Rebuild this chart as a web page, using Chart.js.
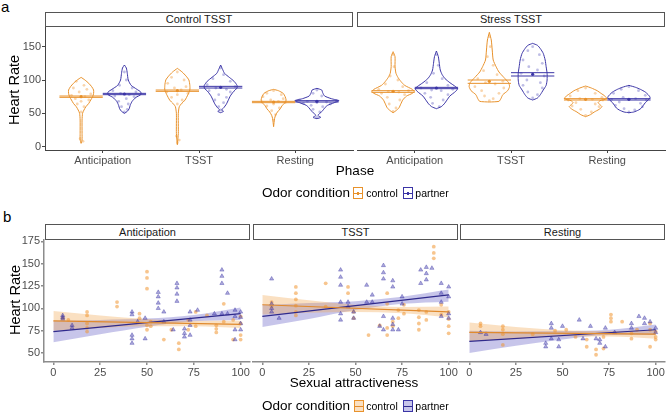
<!DOCTYPE html>
<html>
<head>
<meta charset="utf-8">
<script src="https://cdn.jsdelivr.net/npm/chart.js@4.4.1/dist/chart.umd.min.js"></script>
<style>
body { margin: 0; background: #fff; }
#fig { position: relative; width: 669px; height: 416px; overflow: hidden; font-family: "Liberation Sans", Arial, sans-serif; color: #000; background: #fff; }
#fig canvas { position: absolute; }
.t { position: absolute; white-space: nowrap; line-height: 1; }
.c { transform: translate(-50%, -50%); }
.rot { transform: translate(-50%, -50%) rotate(-90deg); }
.strip { position: absolute; box-sizing: border-box; border: 1px solid #555; background: #fff; font-size: 11px; text-align: center; color: #1a1a1a; }
.key { position: absolute; box-sizing: border-box; width: 10px; height: 12px; border: 1px solid; }
.key i { position: absolute; left: 0; right: 0; top: 4.5px; height: 1px; }
.key b { position: absolute; left: 3px; top: 3.5px; width: 2px; height: 3px; }
</style>
</head>
<body>
<div id="fig">
  <div class="t" style="left:1px;top:-1px;font-size:15px;">a</div>
  <div class="t" style="left:3px;top:209px;font-size:15px;">b</div>

  <div class="strip" style="left:45px;top:12px;width:308px;height:15px;line-height:13px;">Control TSST</div>
  <div class="strip" style="left:357px;top:12px;width:308px;height:15px;line-height:13px;">Stress TSST</div>
  <div class="strip" style="left:45px;top:224px;width:205px;height:16px;line-height:14px;">Anticipation</div>
  <div class="strip" style="left:253px;top:224px;width:205px;height:16px;line-height:14px;">TSST</div>
  <div class="strip" style="left:460px;top:224px;width:205px;height:16px;line-height:14px;">Resting</div>

  <canvas id="cA1"></canvas>
  <canvas id="cA2"></canvas>
  <canvas id="cB1"></canvas>
  <canvas id="cB2"></canvas>
  <canvas id="cB3"></canvas>

  <div class="t rot" style="left:14px;top:90px;font-size:14.5px;">Heart Rate</div>
  <div class="t c" style="left:355px;top:171px;font-size:13.5px;">Phase</div>
  <div class="t c" style="left:306px;top:193px;font-size:13.5px;">Odor condition</div>
  <div class="key" style="left:353px;top:187px;border-color:#E8922C;"><i style="background:#E8922C"></i><b style="background:#E8922C"></b></div>
  <div class="t c" style="left:382px;top:193px;font-size:10.5px;">control</div>
  <div class="key" style="left:403px;top:187px;border-color:#3B35A6;"><i style="background:#3B35A6"></i><b style="background:#3B35A6"></b></div>
  <div class="t c" style="left:432px;top:193px;font-size:10.5px;">partner</div>

  <div class="t rot" style="left:15px;top:300px;font-size:14.5px;">Heart Rate</div>
  <div class="t c" style="left:354px;top:383px;font-size:13.5px;">Sexual attractiveness</div>
  <div class="t c" style="left:306px;top:406px;font-size:13.5px;">Odor condition</div>
  <div class="key" style="left:354px;top:400px;border-color:#E8922C;background:rgba(242,165,80,0.35);"><i style="background:#E08A2E"></i></div>
  <div class="t c" style="left:382px;top:406px;font-size:10.5px;">control</div>
  <div class="key" style="left:403px;top:400px;border-color:#3B35A6;background:rgba(95,90,195,0.35);"><i style="background:#2F2A8C"></i></div>
  <div class="t c" style="left:432px;top:406px;font-size:10.5px;">partner</div>
</div>
<script>
// ---- panel a: categories and ticks
const phases = ['Anticipation', 'TSST', 'Resting'];
const yTicksA = [0, 50, 100, 150];
const xTicksA = [1, 2, 3];

// violin outlines: [heart rate, half width in category units], one per phase
const violinCtrl_control = [
  [[104,0],[100,0.04],[95,0.08],[90,0.11],[85,0.13],[80,0.13],[75,0.12],[70,0.10],[65,0.08],[60,0.05],[55,0.03],[50,0.015],[40,0.01],[20,0.01],[10,0.01],[5,0]],
  [[117.5,0],[112,0.05],[106,0.09],[100,0.12],[92,0.13],[85,0.13],[78,0.11],[70,0.08],[64,0.04],[60,0.02],[50,0.01],[20,0.01],[3,0]],
  [[86,0],[84,0.05],[80,0.10],[75,0.12],[70,0.13],[66,0.12],[62,0.09],[57,0.07],[52,0.04],[47,0.02],[42,0.01],[30,0]]
];
const violinCtrl_partner = [
  [[122.5,0],[118,0.02],[110,0.03],[100,0.04],[92,0.07],[86,0.13],[82,0.17],[78,0.17],[74,0.12],[68,0.08],[62,0.06],[57,0.05],[53,0.03],[50,0]],
  [[122.5,0],[116,0.02],[110,0.04],[104,0.09],[98,0.14],[92,0.17],[88,0.17],[82,0.13],[76,0.10],[70,0.08],[64,0.06],[58,0.03],[55,0.01],[53,0.03],[51,0]],
  [[87.5,0],[85,0.05],[81,0.06],[76,0.08],[72,0.15],[69,0.23],[66,0.18],[62,0.11],[58,0.08],[54,0.06],[50,0.03],[47,0.01],[44,0.04],[42,0]]
];
const violinStress_control = [
  [[142.5,0],[135,0.02],[120,0.02],[110,0.03],[104,0.05],[98,0.08],[92,0.12],[86,0.2],[83,0.22],[80,0.2],[76,0.14],[70,0.1],[64,0.08],[58,0.06],[54,0.03],[51,0]],
  [[171.5,0],[160,0.02],[145,0.03],[130,0.04],[120,0.07],[112,0.1],[104,0.15],[96,0.2],[90,0.21],[84,0.19],[78,0.14],[72,0.12],[68,0.1],[67,0]],
  [[91,0],[88,0.06],[84,0.12],[80,0.16],[76,0.2],[72,0.22],[69,0.15],[66,0.13],[63,0.15],[60,0.17],[56,0.14],[52,0.09],[48,0.05],[45,0]]
];
const violinStress_partner = [
  [[143.5,0],[135,0.02],[125,0.03],[115,0.04],[108,0.06],[102,0.09],[96,0.14],[90,0.2],[87,0.22],[83,0.2],[76,0.14],[70,0.11],[64,0.08],[60,0.05],[57,0]],
  [[155,0],[152,0.05],[147,0.08],[140,0.11],[130,0.13],[120,0.14],[110,0.15],[100,0.15],[92,0.14],[85,0.11],[78,0.08],[73,0.05],[70,0]],
  [[92,0],[89,0.07],[86,0.12],[82,0.17],[78,0.2],[74,0.22],[70,0.2],[66,0.17],[62,0.15],[58,0.13],[55,0.1],[52,0.05],[51,0]]
];

// mean and interval lines
const meanCtrl_control = [75, 84, 67];
const meanCtrl_partner = [79, 89, 68];
const meanStress_control = [83, 98, 71];
const meanStress_partner = [88, 108.5, 71];
const ciCtrl_control = [[74, 76], [83, 85], [66, 68]];
const ciCtrl_partner = [[78, 80], [88, 90.5], [67, 69]];
const ciStress_control = [[81.5, 84], [95, 100], [70, 72]];
const ciStress_partner = [[87, 89], [106, 111], [70, 72]];

// jittered observations: [offset from violin centre, heart rate]
const jitCtrl_control = [
  [[-0.05,98],[0.03,92],[-0.08,88],[0.06,86],[-0.02,82],[0.1,79],[-0.1,77],[0.04,75],[-0.06,72],[0.08,70],[0.0,68],[-0.04,64],[0.03,60],[-0.01,12],[0.02,8],[0.0,52]],
  [[0.0,112],[-0.06,104],[0.07,100],[-0.1,95],[0.09,90],[-0.03,88],[0.04,85],[-0.11,82],[0.11,80],[0.0,78],[-0.06,74],[0.05,70],[0.0,64],[-0.01,16],[0.02,10],[0,6]],
  [[0.0,84],[-0.07,80],[0.08,78],[-0.11,75],[0.1,72],[-0.03,70],[0.05,68],[-0.12,67],[0.12,66],[0.0,64],[-0.07,61],[0.06,58],[-0.02,54],[0.02,48],[0,40]]
];
const jitCtrl_partner = [
  [[0.0,112],[0.02,100],[-0.05,92],[0.08,88],[-0.12,84],[0.12,82],[-0.04,80],[0.05,78],[-0.1,76],[0.1,75],[0.02,72],[-0.06,68],[0.04,64],[-0.03,60],[0.03,56],[0,52]],
  [[0.0,118],[0.03,108],[-0.08,102],[0.1,98],[-0.14,93],[0.15,90],[-0.05,88],[0.06,86],[-0.12,84],[0.1,82],[-0.02,78],[0.06,74],[-0.06,70],[0.03,66],[-0.02,60],[0,55]],
  [[0.0,85],[-0.04,80],[0.05,76],[-0.18,70],[0.2,69],[-0.1,68],[0.1,67],[0.0,66],[-0.14,65],[0.14,64],[-0.06,62],[0.06,60],[-0.04,56],[0.03,52],[0,44]]
];
const jitStress_control = [
  [[0.0,138],[0.01,120],[-0.03,106],[0.05,100],[-0.08,94],[0.1,90],[-0.15,86],[0.16,84],[-0.05,83],[0.06,82],[-0.12,80],[0.12,78],[-0.06,74],[0.07,70],[-0.04,64],[0.03,58],[0,53]],
  [[0.0,165],[0.01,150],[-0.02,135],[0.04,122],[-0.06,114],[0.08,108],[-0.12,102],[0.14,98],[-0.04,96],[0.06,94],[-0.15,90],[0.15,88],[-0.08,84],[0.1,80],[-0.05,76],[0.04,72],[0,69]],
  [[0.0,88],[-0.08,84],[0.1,80],[-0.16,76],[0.17,74],[-0.06,72],[0.07,71],[-0.18,70],[0.18,70],[-0.1,66],[0.1,64],[-0.14,61],[0.14,60],[-0.05,56],[0.06,52],[0,47]]
];
const jitStress_partner = [
  [[0.0,138],[0.02,122],[-0.03,110],[0.06,102],[-0.1,96],[0.12,92],[-0.16,88],[0.17,86],[-0.05,85],[0.05,84],[-0.12,80],[0.12,78],[-0.06,74],[0.07,70],[-0.04,65],[0.03,60]],
  [[0.0,150],[-0.05,144],[0.07,138],[-0.1,130],[0.1,125],[-0.04,120],[0.05,115],[-0.12,110],[0.12,106],[-0.06,100],[0.08,96],[-0.1,92],[0.1,88],[-0.05,82],[0.05,78],[0,73]],
  [[0.0,90],[-0.08,86],[0.1,84],[-0.16,80],[0.17,77],[-0.06,74],[0.07,72],[-0.18,71],[0.18,70],[-0.1,67],[0.12,65],[-0.14,62],[0.14,60],[-0.05,57],[0.06,55],[0,52]]
];

// ---- panel b: ticks, observations [attractiveness, heart rate], fits
const xTicksB = [0, 25, 50, 75, 100];
const yTicksB = [50, 75, 100, 125, 150, 175];
const bandX = [0, 25, 50, 75, 100];

const antControl = [[5,89],[8,87],[18,96],[18,92],[18,83],[18,78],[18,74],[34,107],[34,102],[46,94],[46,89],[50,141],[50,134],[50,122],[50,81],[50,76],[52,85],[52,80],[59,65],[63,76],[67,61],[67,54],[72,87],[72,76],[76,96],[76,80],[82,92],[87,81],[87,77],[87,73],[91,105],[91,85],[96,87],[96,65],[100,91],[100,83],[100,70],[100,65]];
const antPartner = [[5,92],[5,90],[5,88],[10,81],[10,78],[42,96],[42,93],[42,70],[42,66],[42,61],[45,85],[49,89],[49,66],[56,118],[56,113],[56,106],[56,100],[59,96],[59,85],[64,76],[66,128],[66,123],[66,116],[66,108],[70,77],[70,72],[70,68],[73,96],[73,87],[73,81],[73,70],[77,98],[86,94],[90,143],[90,136],[90,128],[90,94],[93,117],[93,94],[97,98],[97,91],[97,76],[97,65],[100,96],[100,90],[100,83],[100,76]];
const tsstControl = [[5,107],[5,102],[18,124],[18,117],[18,110],[18,103],[18,96],[18,92],[34,128],[34,102],[46,124],[46,117],[49,96],[49,89],[57,70],[63,81],[67,117],[67,105],[67,78],[67,70],[70,85],[70,80],[73,98],[73,89],[76,104],[76,94],[84,98],[84,90],[84,83],[84,76],[88,96],[88,87],[92,169],[92,162],[92,156],[96,104],[96,93],[100,96],[100,88],[100,80],[100,72]];
const tsstPartner = [[5,133],[5,105],[5,100],[5,96],[9,89],[42,143],[42,135],[42,126],[42,107],[42,94],[42,87],[46,107],[46,102],[49,96],[49,89],[56,126],[56,107],[59,115],[59,107],[63,80],[65,148],[65,140],[65,133],[65,91],[65,76],[70,131],[70,124],[70,89],[70,82],[70,76],[73,76],[75,113],[75,105],[85,143],[85,128],[88,146],[88,139],[88,132],[91,145],[96,128],[96,117],[96,107],[96,91],[100,124],[100,113],[100,94],[100,89]];
const restControl = [[6,83],[6,80],[18,80],[18,76],[18,71],[18,59],[34,71],[46,75],[52,76],[57,68],[63,65],[63,57],[68,54],[68,48],[72,68],[72,55],[76,93],[76,89],[76,85],[82,85],[87,72],[87,66],[90,76],[97,83],[97,76],[97,57],[100,74],[100,68],[100,65]];
const restPartner = [[6,73],[9,71],[41,61],[41,57],[44,83],[44,78],[44,66],[48,65],[48,57],[50,80],[59,87],[61,66],[65,80],[68,66],[70,65],[70,61],[73,78],[73,57],[78,73],[87,83],[87,78],[91,91],[94,89],[94,83],[97,85],[100,78],[100,73]];

// fitted line: heart rate at attractiveness 0 and 100
const fitAnt_control = [86, 82];
const fitAnt_partner = [74, 94];
const fitTsst_control = [104, 96];
const fitTsst_partner = [91, 115];
const fitRest_control = [73, 71];
const fitRest_partner = [63, 76];
// confidence band at bandX
const bandAnt_control = { lo: [75, 78, 80, 80, 78], hi: [97, 92, 88, 86, 86] };
const bandAnt_partner = { lo: [62, 71, 79.5, 85.5, 87], hi: [86, 87, 88.5, 92.5, 101] };
const bandTsst_control = { lo: [93, 95, 96, 94.5, 90], hi: [115, 109, 104, 101.5, 102] };
const bandTsst_partner = { lo: [79, 88, 98, 105, 107.5], hi: [104, 106, 108, 113, 121] };
const bandRest_control = { lo: [63, 66, 68.5, 68.5, 66], hi: [84, 79, 75.5, 74.5, 76] };
const bandRest_partner = { lo: [50, 58, 65, 70, 70], hi: [75, 74, 74.5, 76, 82] };

const ORANGE = '#E8922C', BLUE = '#3B35A6';
Chart.defaults.font.family = '"Liberation Sans", Arial, sans-serif';
Chart.defaults.font.size = 11;
Chart.defaults.color = '#4D4D4D';

const PAD = 10;
function place(id, plotLeft, plotTop, plotW, plotH, yW, xH) {
    let c = document.getElementById(id);
    c.width = yW + plotW + 2 * PAD;
    c.height = plotH + xH + 2 * PAD;
    c.style.left = (plotLeft - yW - PAD) + 'px';
    c.style.top = (plotTop - PAD) + 'px';
    return c;
}
function axis(min, max, tickVals, lineColor, lineWidth, fitSize, display, labelFn) {
    return {
        type: 'linear', min: min, max: max, display: display,
        border: {display: true, color: lineColor, width: lineWidth},
        grid: {display: true, drawOnChartArea: false, drawTicks: true, tickLength: 3, color: lineColor, lineWidth: lineWidth},
        ticks: {color: '#4D4D4D', padding: 1, autoSkip: false, maxRotation: 0, font: {size: 11},
                callback: labelFn || ((v) => v)},
        afterBuildTicks: (s) => { s.ticks = tickVals.map(v => ({value: v})); },
        afterFit: (s) => { if (s.isHorizontal()) { s.height = fitSize; } else { s.width = fitSize; } }
    };
}
function makeChart(canvas, datasets, xScale, yScale) {
    return new Chart(canvas.getContext('2d'), {
        type: 'line',
        data: {datasets: datasets},
        options: {
            responsive: false, animation: false, devicePixelRatio: 1,
            layout: {padding: PAD},
            plugins: {legend: {display: false}, tooltip: {enabled: false}},
            scales: {x: xScale, y: yScale}
        }
    });
}

/*violins, jittered points, interval lines and means for one facet of panel a*/
function violinFacet(groups) {
    let ds = [];
    groups.forEach(g => {
        for (let k = 0; k < 3; k++) {
            let cx = xTicksA[k] + g.off;
            let right = g.shape[k].map(p => ({x: cx + p[1], y: p[0]}));
            let left = g.shape[k].slice().reverse().map(p => ({x: cx - p[1], y: p[0]}));
            ds.push({data: right.concat(left), borderColor: g.col, borderWidth: 1, pointRadius: 0, fill: false, tension: 0.2, order: 1});
            ds.push({data: g.jit[k].map(p => ({x: cx + p[0], y: p[1]})), showLine: false, pointRadius: 1.4,
                     backgroundColor: g.pcol, borderWidth: 0, order: 2});
            g.ci[k].forEach(y => ds.push({data: [{x: cx - 0.225, y: y}, {x: cx + 0.225, y: y}],
                     borderColor: g.col, borderWidth: 1, pointRadius: 0, fill: false, order: 0}));
            ds.push({data: [{x: cx, y: g.mean[k]}], showLine: false, pointRadius: 1.6, backgroundColor: g.col, borderWidth: 0, order: 0});
        }
    });
    return ds;
}

/*bands, points and fitted lines for one facet of panel b*/
function scatterFacet(ptsC, ptsP, fitC, fitP, bandC, bandP) {
    let ds = [];
    [[bandC, 'rgba(242,165,80,0.35)'], [bandP, 'rgba(95,90,195,0.35)']].forEach(b => {
        ds.push({data: bandX.map((x, i) => ({x: x, y: b[0].hi[i]})), fill: '+1', backgroundColor: b[1], borderWidth: 0,
                 pointRadius: 0, cubicInterpolationMode: 'monotone', order: 3});
        ds.push({data: bandX.map((x, i) => ({x: x, y: b[0].lo[i]})), fill: false, borderWidth: 0,
                 pointRadius: 0, cubicInterpolationMode: 'monotone', order: 3});
    });
    ds.push({data: ptsC.map(p => ({x: p[0], y: p[1]})), showLine: false, pointRadius: 1.9, pointStyle: 'circle',
             backgroundColor: 'rgba(240,150,50,0.55)', borderWidth: 0, order: 2});
    ds.push({data: ptsP.map(p => ({x: p[0], y: p[1]})), showLine: false, pointRadius: 2.4, pointStyle: 'triangle',
             backgroundColor: 'rgba(70,65,175,0.45)', borderColor: 'rgba(50,45,160,0.6)', borderWidth: 0.6, order: 1});
    ds.push({data: [{x: 0, y: fitC[0]}, {x: 100, y: fitC[1]}], borderColor: '#E08A2E', borderWidth: 1.2, pointRadius: 0, fill: false, order: 0});
    ds.push({data: [{x: 0, y: fitP[0]}, {x: 100, y: fitP[1]}], borderColor: '#2F2A8C', borderWidth: 1.2, pointRadius: 0, fill: false, order: 0});
    return ds;
}

const phaseLabel = (v) => phases[v - 1];
const AX_A = '#444444', AX_B = '#8C8C8C';

// panel a
makeChart(place('cA1', 45, 27, 308, 123, 45, 17),
    violinFacet([
        {shape: violinCtrl_control, jit: jitCtrl_control, ci: ciCtrl_control, mean: meanCtrl_control, off: -0.225, col: ORANGE, pcol: 'rgba(240,150,50,0.4)'},
        {shape: violinCtrl_partner, jit: jitCtrl_partner, ci: ciCtrl_partner, mean: meanCtrl_partner, off: 0.225, col: BLUE, pcol: 'rgba(70,65,180,0.35)'}
    ]),
    axis(0.4, 3.6, xTicksA, AX_A, 1, 17, true, phaseLabel),
    axis(-4.95, 179.5, yTicksA, AX_A, 1, 45, true));
makeChart(place('cA2', 357, 27, 308, 123, 0, 17),
    violinFacet([
        {shape: violinStress_control, jit: jitStress_control, ci: ciStress_control, mean: meanStress_control, off: -0.225, col: ORANGE, pcol: 'rgba(240,150,50,0.4)'},
        {shape: violinStress_partner, jit: jitStress_partner, ci: ciStress_partner, mean: meanStress_partner, off: 0.225, col: BLUE, pcol: 'rgba(70,65,180,0.35)'}
    ]),
    axis(0.4, 3.6, xTicksA, AX_A, 1, 17, true, phaseLabel),
    axis(-4.95, 179.5, yTicksA, AX_A, 1, 0, false));

// panel b
makeChart(place('cB1', 44, 240, 206, 122, 44, 18),
    scatterFacet(antControl, antPartner, fitAnt_control, fitAnt_partner, bandAnt_control, bandAnt_partner),
    axis(-5, 105, xTicksB, AX_B, 1.5, 18, true),
    axis(39.9, 176.5, yTicksB, AX_B, 1.5, 44, true));
makeChart(place('cB2', 253, 240, 205, 122, 0, 18),
    scatterFacet(tsstControl, tsstPartner, fitTsst_control, fitTsst_partner, bandTsst_control, bandTsst_partner),
    axis(-5, 105, xTicksB, AX_B, 1.5, 18, true),
    axis(39.9, 176.5, yTicksB, AX_B, 1.5, 0, false));
makeChart(place('cB3', 460, 240, 205, 122, 0, 18),
    scatterFacet(restControl, restPartner, fitRest_control, fitRest_partner, bandRest_control, bandRest_partner),
    axis(-5, 105, xTicksB, AX_B, 1.5, 18, true),
    axis(39.9, 176.5, yTicksB, AX_B, 1.5, 0, false));
</script>
</body>
</html>
